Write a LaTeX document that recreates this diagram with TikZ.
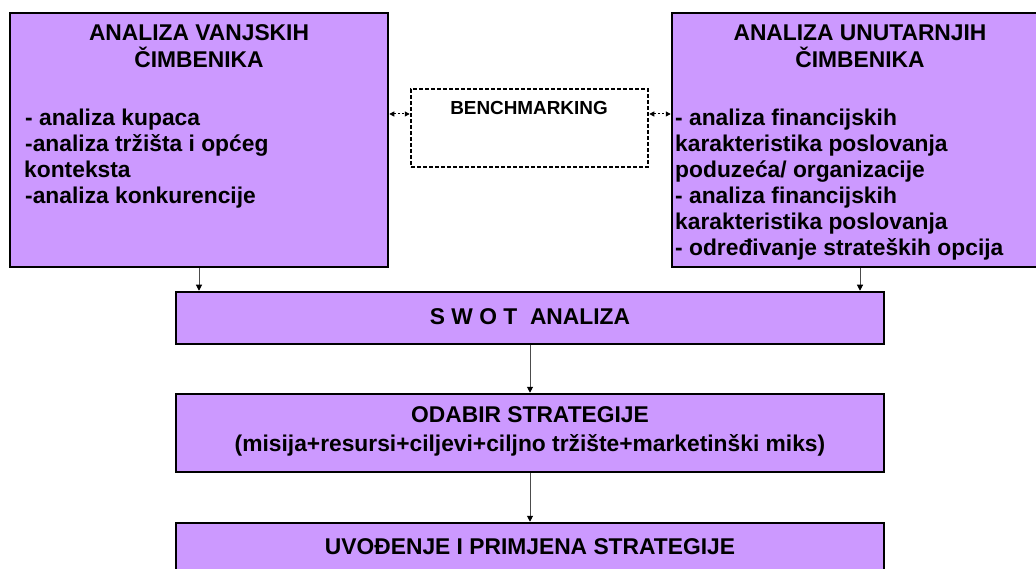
\documentclass[tikz,border=0pt]{standalone}
\usepackage{fontspec}
\setmainfont{Liberation Sans}
\usetikzlibrary{arrows.meta}
\definecolor{lav}{HTML}{CC99FF}
\begin{document}
\begin{tikzpicture}[x=1pt,y=-1pt,
  box/.style={draw=black,fill=lav,line width=2.5pt,inner sep=0pt,rectangle},
  txt/.style={inner sep=0pt,font=\fontsize{22.8}{26}\selectfont\bfseries},
  txtl/.style={txt,anchor=base west},
  txtc/.style={txt,anchor=base},
  arr/.style={draw=black!70,line width=1pt,-{Triangle[width=6pt,length=6pt,color=black]}},
  darr/.style={draw=black,line width=1pt,dash pattern=on 2pt off 2pt,
    {Triangle[width=5pt,length=5pt,color=black]}-{Triangle[width=5pt,length=5pt,color=black]}}
]
\useasboundingbox (0,0) rectangle (1036,569);
\fill[white] (0,0) rectangle (1036,569);
% boxes
\node[box,minimum width=378pt,minimum height=254pt] (vanj) at (199,140) {};
\node[box,minimum width=376pt,minimum height=254pt] (unut) at (860,140) {};
\node[draw=black,line width=2.5pt,dash pattern=on 4pt off 2pt,fill=white,inner sep=0pt,
      minimum width=237pt,minimum height=78pt] (bench) at (529.5,128) {};
\node[box,minimum width=708pt,minimum height=52pt] (swot) at (530,318) {};
\node[box,minimum width=708pt,minimum height=78pt] (odab) at (530,433) {};
\node[box,minimum width=708pt,minimum height=76pt] (uvod) at (530,561) {};
% left box text
\node[txtc] (v1) at (199,41) {ANALIZA VANJSKIH};
\node[txtc] (v2) at (199,68) {ČIMBENIKA};
\node[txtl] (v3) at (25,126) {- analiza kupaca};
\node[txtl] (v4) at (25,152) {-analiza tržišta i općeg};
\node[txtl] (v5) at (24,178) {konteksta};
\node[txtl] (v6) at (25,204) {-analiza konkurencije};
% right box text
\node[txtc] (u1) at (860,41) {ANALIZA UNUTARNJIH};
\node[txtc] (u2) at (860,68) {ČIMBENIKA};
\node[txtl] (u3) at (675,126) {- analiza financijskih};
\node[txtl] (u4) at (675,152) {karakteristika poslovanja};
\node[txtl] (u5) at (675,178) {poduzeća/ organizacije};
\node[txtl] (u6) at (675,204) {- analiza financijskih};
\node[txtl] (u7) at (675,230) {karakteristika poslovanja};
\node[txtl] (u8) at (675,256) {- određivanje strateških opcija};
% benchmarking
\node[inner sep=0pt,anchor=base,font=\fontsize{18.9}{22}\selectfont\bfseries] (b1) at (529,115) {BENCHMARKING};
% other texts
\node[txtc] (s1) at (530,324) {S W O T\ \ ANALIZA};
\node[txtc] (o1) at (530,422) {ODABIR STRATEGIJE};
\node[txtc] (o2) at (530,451) {(misija+resursi+ciljevi+ciljno tržište+marketinški miks)};
\node[txtc] (p1) at (530,554) {UVOĐENJE I PRIMJENA STRATEGIJE};
% connectors
\draw[arr] (vanj.south) -- (vanj.south |- swot.north);
\draw[arr] (unut.south) -- (unut.south |- swot.north);
\draw[arr] (swot.south) -- (odab.north);
\draw[arr] (odab.south) -- (uvod.north);
\draw[darr] ([yshift=14pt]bench.west -| vanj.east) -- ([yshift=14pt]bench.west);
\draw[darr] ([yshift=14pt]bench.east) -- ([yshift=14pt]bench.east -| unut.west);
\end{tikzpicture}
\end{document}
